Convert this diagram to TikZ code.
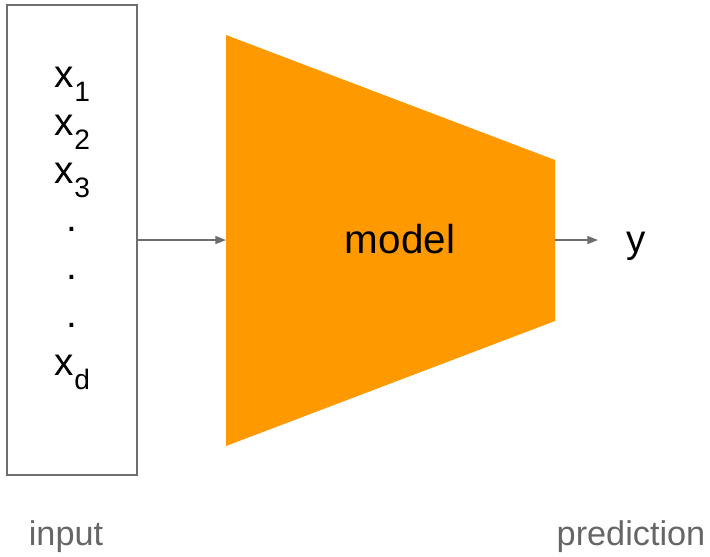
\documentclass[tikz,border=0pt]{standalone}
\usepackage{fontspec}
\setmainfont{Liberation Sans}
\usetikzlibrary{arrows.meta}
\definecolor{modelorange}{HTML}{FF9900}
\definecolor{linegray}{HTML}{6E6E6E}
\definecolor{labelgray}{HTML}{666666}
\tikzstyle{feature} = [anchor=base, inner sep=0pt, font=\fontsize{22}{22}\selectfont]
\tikzstyle{caption} = [anchor=base, inner sep=0pt, text=labelgray, font=\fontsize{19.5}{19.5}\selectfont]
\newcommand{\xsub}[1]{x\kern0.5pt\raisebox{-8.5pt}{\fontsize{16}{16}\selectfont #1}}

\begin{document}
\begin{tikzpicture}[x=0.02cm, y=-0.02cm]
        \useasboundingbox (0,0) rectangle (710,556);
        % input vector
        \node[draw=linegray, line width=0.9pt, minimum width=2.6cm, minimum height=9.4cm, inner sep=0pt] (input) at (72,240) {};
        \node[feature] (x1) at (72,87) {\xsub{1}};
        \node[feature] (x2) at (72,135) {\xsub{2}};
        \node[feature] (x3) at (72,183) {\xsub{3}};
        \node[feature] (d1) at (72,231) {.};
        \node[feature] (d2) at (72,279) {.};
        \node[feature] (d3) at (72,327) {.};
        \node[feature] (xd) at (72,375) {\xsub{d}};
        % model
        \fill[modelorange] (226,35) -- (555,160) -- (555,321) -- (226,446) -- cycle;
        \coordinate (min) at (226,240);
        \coordinate (mout) at (555,240);
        \node[feature, font=\fontsize{23}{23}\selectfont] (model) at (400,253) {model};
        \node[feature] (y) at (636,252) {y};
        \coordinate (yin) at (598,240);
        % labels
        \node[caption] (lin) at (66,545) {input};
        \node[caption] (lout) at (631,545) {prediction};
    \begin{scope}[-{Triangle[length=6pt,width=4.5pt]}, draw=linegray, fill=linegray, line width=0.85pt]
        \draw (input.east) -- (min);
        \draw (mout) -- (yin);
    \end{scope}
    \end{tikzpicture}
\end{document}
